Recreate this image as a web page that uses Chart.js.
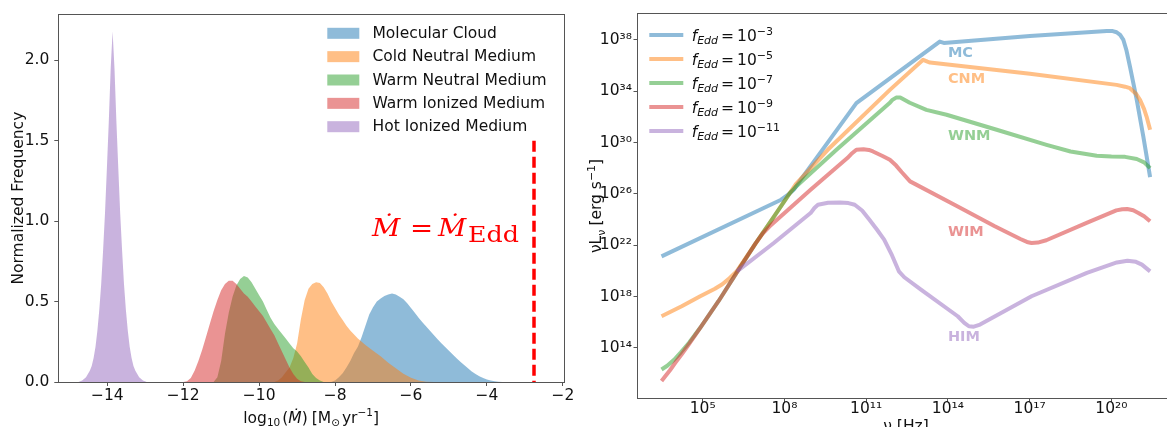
<!DOCTYPE html>
<html>
<head>
<meta charset="utf-8">
<title>Accretion rates and spectra by ISM phase</title>
<script src="https://cdn.jsdelivr.net/npm/chart.js@4.4.1/dist/chart.umd.min.js"></script>
<style>
  html, body { margin: 0; padding: 0; background: #fff; overflow: hidden; }
  #leftChart { position: absolute; left: 0; top: 0; }
  #rightChart { position: absolute; left: 580px; top: 0; }
</style>
</head>
<body>
<canvas id="leftChart" width="580" height="427"></canvas>
<canvas id="rightChart" width="587" height="427"></canvas>
<script>
const FONT = "DejaVu Sans";
const TEXT = "#111";
const SPINE = "#555";

const phaseNames = ["Molecular Cloud", "Cold Neutral Medium", "Warm Neutral Medium", "Warm Ionized Medium", "Hot Ionized Medium"];
const phaseShort = ["MC", "CNM", "WNM", "WIM", "HIM"];
const phaseColors = ["rgba(31,119,180,0.5)", "rgba(255,127,14,0.5)", "rgba(44,160,44,0.5)", "rgba(214,39,40,0.5)", "rgba(148,103,189,0.5)"];

// ---- left panel: log10(Mdot) histograms, normalized frequency ----
const mcBins = [-8.1, -8.0, -7.9, -7.8, -7.7, -7.6, -7.5, -7.4, -7.3, -7.2, -7.1, -7.0, -6.9, -6.8, -6.7, -6.6, -6.5, -6.4, -6.3, -6.2, -6.1, -6.0, -5.9, -5.8, -5.7, -5.6, -5.5, -5.4, -5.3, -5.2, -5.1, -5.0, -4.9, -4.8, -4.7, -4.6, -4.5, -4.4, -4.3, -4.2, -4.1, -4.0, -3.9, -3.8, -3.7, -3.6];
const mcFreq = [0, 0.01, 0.03, 0.055, 0.09, 0.13, 0.18, 0.22, 0.28, 0.35, 0.42, 0.465, 0.5, 0.52, 0.535, 0.545, 0.55, 0.545, 0.53, 0.515, 0.49, 0.46, 0.43, 0.4, 0.372, 0.345, 0.318, 0.292, 0.266, 0.241, 0.217, 0.194, 0.171, 0.148, 0.126, 0.105, 0.085, 0.066, 0.05, 0.036, 0.025, 0.016, 0.01, 0.005, 0.002, 0];

const cnmBins = [-9.6, -9.5, -9.4, -9.3, -9.2, -9.1, -9.0, -8.9, -8.8, -8.7, -8.6, -8.5, -8.4, -8.3, -8.2, -8.1, -8.0, -7.9, -7.8, -7.7, -7.6, -7.5, -7.4, -7.3, -7.2, -7.0, -6.8, -6.6, -6.4, -6.2, -6.0, -5.8, -5.6, -5.4];
const cnmFreq = [0, 0.01, 0.03, 0.06, 0.09, 0.15, 0.24, 0.39, 0.51, 0.58, 0.61, 0.62, 0.615, 0.59, 0.55, 0.5, 0.46, 0.42, 0.385, 0.35, 0.32, 0.295, 0.27, 0.25, 0.23, 0.195, 0.16, 0.12, 0.085, 0.052, 0.027, 0.01, 0.002, 0];

const wnmBins = [-11.2, -11.1, -11.0, -10.9, -10.8, -10.7, -10.6, -10.5, -10.4, -10.3, -10.2, -10.1, -10.0, -9.9, -9.8, -9.7, -9.6, -9.5, -9.4, -9.3, -9.2, -9.1, -9.0, -8.9, -8.8, -8.7, -8.6, -8.5, -8.4, -8.3];
const wnmFreq = [0, 0.03, 0.13, 0.3, 0.43, 0.53, 0.6, 0.64, 0.66, 0.65, 0.62, 0.58, 0.54, 0.5, 0.45, 0.4, 0.36, 0.33, 0.3, 0.27, 0.24, 0.21, 0.19, 0.16, 0.125, 0.09, 0.05, 0.025, 0.01, 0];

const wimBins = [-12.0, -11.9, -11.8, -11.7, -11.6, -11.5, -11.4, -11.3, -11.2, -11.1, -11.0, -10.9, -10.8, -10.7, -10.6, -10.5, -10.4, -10.3, -10.2, -10.1, -10.0, -9.9, -9.8, -9.7, -9.6, -9.5, -9.4, -9.3, -9.2, -9.1, -9.0, -8.9, -8.8];
const wimFreq = [0, 0.005, 0.025, 0.07, 0.13, 0.2, 0.28, 0.36, 0.44, 0.51, 0.57, 0.61, 0.63, 0.63, 0.61, 0.58, 0.55, 0.53, 0.5, 0.47, 0.44, 0.41, 0.37, 0.33, 0.29, 0.24, 0.19, 0.14, 0.09, 0.05, 0.02, 0.005, 0];

const himBins = [-14.76, -14.66, -14.56, -14.51, -14.46, -14.41, -14.36, -14.31, -14.26, -14.21, -14.16, -14.11, -14.06, -14.01, -13.96, -13.91, -13.86, -13.81, -13.76, -13.71, -13.66, -13.61, -13.56, -13.51, -13.46, -13.41, -13.36, -13.31, -13.26, -13.21, -13.16, -13.06, -12.96];
const himFreq = [0, 0.01, 0.03, 0.05, 0.07, 0.1, 0.15, 0.22, 0.32, 0.45, 0.61, 0.82, 1.05, 1.33, 1.62, 1.95, 2.18, 1.95, 1.62, 1.33, 1.05, 0.82, 0.61, 0.45, 0.32, 0.22, 0.15, 0.1, 0.07, 0.05, 0.03, 0.01, 0];

const eddingtonRate = -2.76;
const eddingtonTop = 1.5;
const histTicksX = [-14, -12, -10, -8, -6, -4, -2];
const histTicksY = [0, 0.5, 1, 1.5, 2];

// ---- right panel: log10(nu) vs log10(nu L_nu) ----
const fEddExp = ["−3", "−5", "−7", "−9", "−11"];
const labelLogL = [36.96, 34.94, 30.47, 23.0, 14.84];

const mcNu = [3.49, 7.88, 8.15, 8.35, 8.6, 10.64, 13.7, 13.85, 17.01, 19.83, 20.05, 20.19, 20.32, 20.44, 20.55, 20.68, 20.93, 21.17, 21.42];
const mcLum = [21.13, 25.54, 25.95, 26.35, 27.1, 33.07, 37.86, 37.76, 38.3, 38.69, 38.68, 38.59, 38.38, 37.99, 37.2, 35.92, 33.32, 30.47, 27.3];

const cnmNu = [3.49, 4.23, 4.91, 5.45, 5.72, 5.95, 6.26, 6.93, 7.61, 8.42, 9.59, 11.87, 13.09, 13.25, 13.34, 17.01, 20.19, 20.5, 20.68, 20.9, 21.05, 21.2, 21.29, 21.42];
const cnmLum = [16.46, 17.24, 18.02, 18.6, 18.95, 19.35, 20.0, 22.1, 24.2, 26.75, 29.43, 34.1, 36.44, 36.3, 36.23, 35.35, 34.49, 34.35, 34.23, 33.8, 33.32, 32.6, 32.02, 30.99];

const wnmNu = [3.49, 3.7, 3.96, 4.2, 4.5, 4.91, 5.58, 6.26, 6.93, 7.61, 8.2, 8.42, 9.91, 11.87, 11.95, 12.1, 12.25, 12.6, 13.21, 13.95, 15.79, 17.62, 18.5, 19.46, 20.0, 20.5, 20.93, 21.2, 21.42];
const wnmLum = [12.31, 12.6, 13.09, 13.65, 14.39, 15.56, 17.63, 19.9, 22.1, 24.2, 26.05, 26.55, 29.43, 33.09, 33.3, 33.5, 33.5, 33.1, 32.54, 32.16, 30.99, 29.82, 29.3, 28.96, 28.9, 28.88, 28.71, 28.45, 28.0];

const wimNu = [3.49, 3.8, 4.0, 4.23, 4.5, 4.91, 5.58, 6.26, 6.93, 7.2, 7.45, 8.96, 10.31, 10.45, 10.64, 10.9, 11.1, 11.25, 11.6, 11.87, 12.1, 12.3, 12.61, 14.36, 15.72, 16.66, 16.9, 17.07, 17.3, 17.61, 19.09, 20.18, 20.4, 20.58, 20.8, 20.99, 21.2, 21.42];
const wimLum = [11.41, 12.25, 12.85, 13.5, 14.3, 15.56, 17.63, 19.9, 22.1, 22.9, 23.45, 26.32, 28.79, 29.1, 29.43, 29.48, 29.42, 29.3, 28.95, 28.65, 28.2, 27.7, 26.97, 25.02, 23.47, 22.48, 22.25, 22.17, 22.2, 22.38, 23.73, 24.71, 24.8, 24.82, 24.72, 24.51, 24.25, 23.86];

const himNu = [6.26, 7.61, 8.96, 9.1, 9.23, 9.6, 10.04, 10.35, 10.58, 10.85, 11.12, 11.4, 11.66, 11.95, 12.2, 12.4, 13.01, 14.36, 14.6, 14.77, 14.95, 15.18, 17.07, 19.1, 20.2, 20.59, 20.9, 21.12, 21.42];
const himLum = [19.96, 22.17, 24.5, 24.9, 25.15, 25.3, 25.33, 25.28, 25.15, 24.7, 23.98, 23.2, 22.43, 21.2, 19.96, 19.5, 18.54, 16.46, 15.95, 15.68, 15.65, 15.81, 18.02, 19.84, 20.65, 20.79, 20.7, 20.48, 19.96];

const nuTicks = [5, 8, 11, 14, 17, 20];
const lumTicks = [14, 18, 22, 26, 30, 34, 38];

const SUP = { "0": "⁰", "1": "¹", "2": "²", "3": "³", "4": "⁴", "5": "⁵", "6": "⁶", "7": "⁷", "8": "⁸", "9": "⁹" };
function powLabel(value) {
  const e = Math.round(Math.log10(value));
  return "10" + String(e).split("").map((c) => SUP[c]).join("");
}

function f(size, style) {
  return (style ? style + " " : "") + size + "px " + FONT;
}

// draws a run of text pieces: [text, font, dy, gapAfter]
function drawParts(ctx, parts, x, y, align) {
  let w = 0;
  parts.forEach((p) => {
    ctx.font = p[1];
    w += ctx.measureText(p[0]).width + (p[3] || 0);
  });
  let cx = align === "center" ? x - w / 2 : x;
  parts.forEach((p) => {
    ctx.font = p[1];
    ctx.fillText(p[0], cx, y + (p[2] || 0));
    cx += ctx.measureText(p[0]).width + (p[3] || 0);
  });
}

function tickStyle(pad) {
  return { autoSkip: false, maxRotation: 0, padding: pad, color: TEXT, font: { family: FONT, size: 15.5 } };
}
const tickGrid = { drawOnChartArea: false, drawTicks: true, tickLength: 4, color: SPINE, lineWidth: 1 };

// ---------------- left chart ----------------
const histSets = [[mcBins, mcFreq], [cnmBins, cnmFreq], [wnmBins, wnmFreq], [wimBins, wimFreq], [himBins, himFreq]];
const leftDatasets = histSets.map((s, i) => ({
  label: phaseNames[i],
  data: s[0].map((x, k) => ({ x: x, y: s[1][k] })),
  backgroundColor: phaseColors[i],
  borderColor: "rgba(0,0,0,0)",
  borderWidth: 0,
  pointRadius: 0,
  fill: "origin",
  tension: 0,
  order: 10 - i,
}));
leftDatasets.push({
  label: "Eddington",
  data: [{ x: eddingtonRate, y: eddingtonTop }, { x: eddingtonRate, y: 0 }],
  borderColor: "#ff0000",
  borderWidth: 3.5,
  borderDash: [11, 5],
  pointRadius: 0,
  fill: false,
  order: 0,
});

const leftDecor = {
  id: "leftDecor",
  afterDraw(chart) {
    const ctx = chart.ctx;
    const a = chart.chartArea;
    ctx.save();
    ctx.strokeStyle = SPINE;
    ctx.lineWidth = 1;
    ctx.strokeRect(Math.round(a.left) + 0.5, Math.round(a.top) + 0.5, Math.round(a.right - a.left), Math.round(a.bottom - a.top));

    // legend
    ctx.textBaseline = "middle";
    ctx.textAlign = "left";
    phaseNames.forEach((name, i) => {
      const y = 33.3 + i * 23.35;
      ctx.fillStyle = phaseColors[i];
      ctx.fillRect(327.3, y - 5.5, 32, 11);
      ctx.fillStyle = TEXT;
      ctx.font = f(15.5);
      ctx.fillText(name, 372.5, y + 0.5);
    });

    // Eddington label, widened a little like the math font
    ctx.save();
    ctx.textBaseline = "alphabetic";
    ctx.fillStyle = "#ff0000";
    ctx.translate(372, 0);
    ctx.scale(1.15, 1);
    ctx.font = "italic 24px DejaVu Serif";
    ctx.fillText("Ṁ", 0, 235.7);
    ctx.font = "24px DejaVu Serif";
    ctx.fillText("=", 33, 235.7);
    ctx.font = "italic 24px DejaVu Serif";
    ctx.fillText("Ṁ", 57.4, 235.7);
    ctx.font = "22px DejaVu Serif";
    ctx.fillText("Edd", 83.5, 241.7);
    ctx.restore();

    // axis titles
    ctx.fillStyle = TEXT;
    ctx.textBaseline = "alphabetic";
    drawParts(ctx, [
      ["log", f(15.5), 0, 0],
      ["10", f(10.5), 3.5, 2],
      ["(", f(15.5), 0, 0],
      ["Ṁ", f(15.5, "italic"), 0, 0],
      [")", f(15.5), 0, 4],
      ["[M", f(15.5), 0, 0],
      ["⊙", f(10.5), 3.5, 2],
      ["yr", f(15.5), 0, 0],
      ["−1", f(10.5), -6.5, 0],
      ["]", f(15.5), 0, 0],
    ], (a.left + a.right) / 2, 422.7, "center");

    ctx.translate(17, (a.top + a.bottom) / 2);
    ctx.rotate(-Math.PI / 2);
    drawParts(ctx, [["Normalized Frequency", f(15.5), 0, 0]], 0, 5.5, "center");
    ctx.restore();
  },
};

new Chart(document.getElementById("leftChart"), {
  type: "line",
  data: { datasets: leftDatasets },
  options: {
    responsive: false,
    devicePixelRatio: 1,
    animation: false,
    events: [],
    layout: { padding: { top: 12.7, right: 16, left: 0, bottom: 0 } },
    plugins: { legend: { display: false }, tooltip: { enabled: false } },
    scales: {
      x: {
        type: "linear",
        min: -15.29,
        max: -1.97,
        afterBuildTicks: (axis) => { axis.ticks = histTicksX.map((v) => ({ value: v })); },
        afterFit: (axis) => { axis.height = 45; },
        ticks: Object.assign(tickStyle(1), { callback: (v) => String(v).replace("-", "−") }),
        grid: tickGrid,
        border: { display: false },
      },
      y: {
        type: "linear",
        min: 0,
        max: 2.287,
        afterBuildTicks: (axis) => { axis.ticks = histTicksY.map((v) => ({ value: v })); },
        afterFit: (axis) => { axis.width = 58.3; },
        ticks: Object.assign(tickStyle(5), { callback: (v) => v.toFixed(1) }),
        grid: tickGrid,
        border: { display: false },
      },
    },
  },
  plugins: [leftDecor],
});

// ---------------- right chart ----------------
const spectra = [[mcNu, mcLum], [cnmNu, cnmLum], [wnmNu, wnmLum], [wimNu, wimLum], [himNu, himLum]];
const rightDatasets = spectra.map((s, i) => ({
  label: "f_Edd = 10^" + fEddExp[i],
  data: s[0].map((nu, k) => ({ x: 10 ** nu, y: 10 ** s[1][k] })),
  borderColor: phaseColors[i],
  borderWidth: 4,
  borderJoinStyle: "round",
  pointRadius: 0,
  fill: false,
  tension: 0,
  order: 10 - i,
}));

const rightDecor = {
  id: "rightDecor",
  afterDraw(chart) {
    const ctx = chart.ctx;
    const a = chart.chartArea;
    const sx = chart.scales.x;
    const sy = chart.scales.y;
    ctx.save();
    ctx.strokeStyle = SPINE;
    ctx.lineWidth = 1;
    ctx.strokeRect(Math.round(a.left) + 0.5, Math.round(a.top) + 0.5, Math.round(a.right - a.left) + 20, Math.round(a.bottom - a.top));

    // legend
    ctx.textAlign = "left";
    ctx.textBaseline = "alphabetic";
    fEddExp.forEach((exp, i) => {
      const y = 35 + i * 24;
      ctx.strokeStyle = phaseColors[i];
      ctx.lineWidth = 4;
      ctx.beginPath();
      ctx.moveTo(69.3, y);
      ctx.lineTo(103.3, y);
      ctx.stroke();
      ctx.fillStyle = TEXT;
      drawParts(ctx, [
        ["f", f(15.5, "italic"), 0, 0],
        ["Edd", f(11, "italic"), 3, 3],
        ["=", f(15.5), 0, 3],
        ["10", f(15.5), 0, 0],
        [exp, f(11), -5.5, 0],
      ], 111.7, y + 5.7, "left");
    });

    // phase labels beside the curves
    ctx.textBaseline = "middle";
    ctx.font = f(14.5, "bold");
    phaseShort.forEach((name, i) => {
      ctx.fillStyle = phaseColors[i];
      ctx.fillText(name, sx.getPixelForValue(1e14), sy.getPixelForValue(10 ** labelLogL[i]));
    });

    // axis titles
    ctx.textBaseline = "alphabetic";
    ctx.fillStyle = TEXT;
    drawParts(ctx, [["ν [Hz]", f(15.5), 0, 0]], 326, 431, "center");
    ctx.translate(15.5, (a.top + a.bottom) / 2);
    ctx.rotate(-Math.PI / 2);
    drawParts(ctx, [
      ["νL", f(15.5), 0, 0],
      ["ν", f(11), 3.5, 4],
      ["[erg s", f(15.5), 0, 0],
      ["−1", f(11), -6.5, 0],
      ["]", f(15.5), 0, 0],
    ], 0, 5.5, "center");
    ctx.restore();
  },
};

new Chart(document.getElementById("rightChart"), {
  type: "line",
  data: { datasets: rightDatasets },
  options: {
    responsive: false,
    devicePixelRatio: 1,
    animation: false,
    events: [],
    layout: { padding: { top: 13.4, right: 0, left: 0, bottom: 0 } },
    plugins: { legend: { display: false }, tooltip: { enabled: false } },
    scales: {
      x: {
        type: "logarithmic",
        min: 10 ** 2.59,
        max: 10 ** 22.04,
        afterBuildTicks: (axis) => { axis.ticks = nuTicks.map((e) => ({ value: 10 ** e })); },
        afterFit: (axis) => { axis.height = 28.5; },
        ticks: Object.assign(tickStyle(-2), { callback: (v) => powLabel(v) }),
        grid: Object.assign({}, tickGrid, { tickLength: 3.5 }),
        border: { display: false },
      },
      y: {
        type: "logarithmic",
        min: 10 ** 10.05,
        max: 10 ** 40.06,
        afterBuildTicks: (axis) => { axis.ticks = lumTicks.map((e) => ({ value: 10 ** e })); },
        afterFit: (axis) => { axis.width = 57; },
        ticks: Object.assign(tickStyle(1.5), { callback: (v) => powLabel(v) }),
        grid: Object.assign({}, tickGrid, { tickLength: 3.5 }),
        border: { display: false },
      },
    },
  },
  plugins: [rightDecor],
});
</script>
</body>
</html>
